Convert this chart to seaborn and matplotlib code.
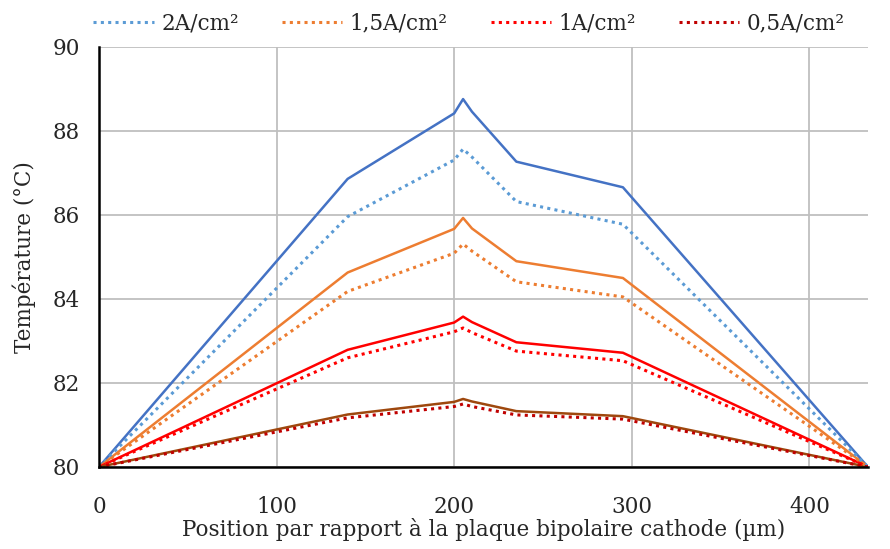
import matplotlib
matplotlib.use("Agg")
import matplotlib.pyplot as plt
import seaborn as sns
import pandas as pd

# Data (position in µm, temperature in °C)
position = [0, 140, 200, 205, 210, 235, 295, 433]

t_2a_solid = [80, 86.86, 88.42, 88.76, 88.46, 87.27, 86.66, 80]
t_2a_dot = [80, 85.96, 87.31, 87.57, 87.38, 86.32, 85.78, 80]
t_15a_solid = [80, 84.63, 85.67, 85.93, 85.68, 84.90, 84.50, 80]
t_15a_dot = [80, 84.18, 85.09, 85.31, 85.14, 84.41, 84.05, 80]
t_1a_solid = [80, 82.79, 83.44, 83.58, 83.45, 82.97, 82.72, 80]
t_1a_dot = [80, 82.60, 83.22, 83.31, 83.20, 82.76, 82.53, 80]
t_05a_solid = [80, 81.25, 81.55, 81.62, 81.56, 81.33, 81.21, 80]
t_05a_dot = [80, 81.17, 81.44, 81.50, 81.44, 81.24, 81.14, 80]

legend_labels = ["2A/cm²", "1,5A/cm²", "1A/cm²", "0,5A/cm²"]

sns.set_style("whitegrid")
plt.rcParams['font.family'] = ['DejaVu Serif']
plt.rcParams['font.size'] = 15.5

fig = plt.figure(figsize=(8.9, 5.49), dpi=100)
ax = fig.add_axes([99 / 890, 82 / 549, 769 / 890, 420 / 549])

# solid lines (no legend entry)
solids = [(t_2a_solid, '#4472C4'), (t_15a_solid, '#ED7D31'),
          (t_1a_solid, '#FF0000'), (t_05a_solid, '#9E480E')]
for vals, col in solids:
    sns.lineplot(x=position, y=vals, ax=ax, color=col, linewidth=1.8,
                 estimator=None, sort=False)

# dotted lines (legend)
dots = [(t_2a_dot, '#5B9BD5'), (t_15a_dot, '#ED7D31'),
        (t_1a_dot, '#FF0000'), (t_05a_dot, '#C00000')]
for (vals, col), lab in zip(dots, legend_labels):
    sns.lineplot(x=position, y=vals, ax=ax, color=col, linewidth=2.2,
                 linestyle=(0, (1, 1.4)), estimator=None, sort=False, label=lab)

ax.set_xlim(0, 433)
ax.set_ylim(80, 90)
ax.set_xticks([0, 100, 200, 300, 400])
ax.set_yticks([80, 82, 84, 86, 88, 90])
ax.grid(True, color='#BFBFBF', linewidth=1.3)
for s in ['top', 'right']:
    ax.spines[s].set_visible(False)
for s in ['left', 'bottom']:
    ax.spines[s].set_color('black')
    ax.spines[s].set_linewidth(1.8)
ax.tick_params(axis='y', length=0, pad=14)
ax.tick_params(axis='x', length=0, pad=21)
ax.set_xlabel('Position par rapport à la plaque bipolaire cathode (µm)', labelpad=0)
ax.set_ylabel('Température (°C)', labelpad=12)

h, l = ax.get_legend_handles_labels()
ax.legend_.remove()
fig.legend(h, l, loc='upper center', bbox_to_anchor=(0.527, 1.012), ncol=4,
           frameon=False, handlelength=2.8, columnspacing=2.0, handletextpad=0.35)

plt.savefig('out.png', dpi=100)
